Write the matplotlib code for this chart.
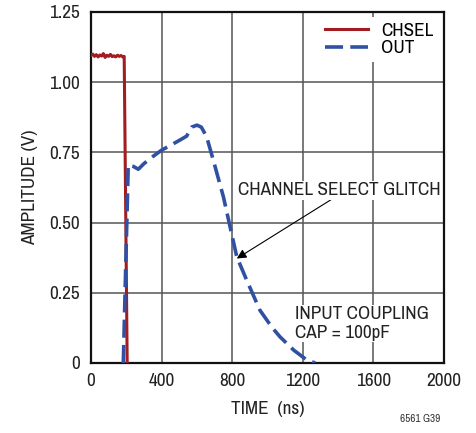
import matplotlib
matplotlib.use("Agg")
import matplotlib.pyplot as plt
from matplotlib import font_manager

# pick a condensed font if there is one
names = sorted(set(f.name for f in font_manager.fontManager.ttflist))
narrow = [n for n in names if 'Narrow' in n or 'Condensed' in n]
fam = narrow[0] if narrow else 'Liberation Sans'
plt.rcParams['font.family'] = [fam, 'DejaVu Sans']
fs = 13.8 if narrow else 11.5

# CHSEL trace (ns, V)
chsel_t = [0, 10, 20, 30, 40, 50, 60, 70, 80, 90, 100, 110, 120, 130, 140,
           150, 160, 170, 180, 188, 205]
chsel_v = [1.095, 1.100, 1.092, 1.098, 1.090, 1.097, 1.093, 1.102, 1.088, 1.096,
           1.092, 1.099, 1.091, 1.094, 1.090, 1.096, 1.092, 1.095, 1.090, 1.092,
           0.0]

# OUT trace (ns, V)
out_t = [183, 211, 240, 268, 300, 350, 400, 450, 504, 542, 570, 600, 625,
         655, 693, 750, 826, 882, 957, 1024, 1071, 1150, 1220, 1270]
out_v = [0.0, 0.705, 0.700, 0.690, 0.710, 0.735, 0.758, 0.775, 0.794, 0.808,
         0.840, 0.847, 0.840, 0.806, 0.722, 0.592, 0.378, 0.295, 0.188, 0.128,
         0.093, 0.045, 0.012, 0.0]

xticks = [0, 400, 800, 1200, 1600, 2000]
yticks = [0, 0.25, 0.50, 0.75, 1.00, 1.25]
yticklabels = ['0', '0.25', '0.50', '0.75', '1.00', '1.25']

red = '#a11d21'
blue = '#3050a3'

fig = plt.figure(figsize=(4.77, 4.33), dpi=100)
ax = fig.add_axes([0.1908, 0.1617, 0.74, 0.8106])

ax.plot(chsel_t, chsel_v, color=red, lw=2.2, label='CHSEL', zorder=3)
ax.plot(out_t, out_v, color=blue, lw=2.6, dashes=(5, 2), label='OUT', zorder=4)

ax.set_xlim(0, 2000)
ax.set_ylim(0, 1.25)
ax.set_xticks(xticks)
ax.set_yticks(yticks)
ax.set_yticklabels(yticklabels)
ax.tick_params(length=0, labelsize=fs, colors='#222222')
ax.tick_params(axis='y', pad=8)
ax.tick_params(axis='x', pad=7)
ax.grid(True, color='#555555', lw=1.1)
ax.set_axisbelow(True)
for s in ax.spines.values():
    s.set_linewidth(1.6)
    s.set_color('#111111')

ax.set_xlabel('TIME  (ns)', fontsize=fs, color='#222222', labelpad=9)
ax.set_ylabel('AMPLITUDE (V)', fontsize=fs, color='#222222', labelpad=8)

leg = ax.legend(loc='upper right', bbox_to_anchor=(1.0, 1.0), fontsize=fs,
                frameon=True, handlelength=2.2, handletextpad=0.7,
                borderaxespad=0.25, labelspacing=0.05, borderpad=0.3)
leg.get_frame().set_facecolor('white')
leg.get_frame().set_edgecolor('none')
leg.get_frame().set_alpha(1.0)

ax.annotate('CHANNEL SELECT GLITCH', xy=(826, 0.372), xytext=(833, 0.615),
            fontsize=fs, color='#222222', va='center', ha='left',
            bbox=dict(facecolor='white', edgecolor='none', pad=1),
            arrowprops=dict(arrowstyle='-|>', color='black', lw=0.8,
                            mutation_scale=14, shrinkA=0, shrinkB=0,
                            relpos=(0.47, 0.0)), zorder=5)

ax.text(1155, 0.14, 'INPUT COUPLING\nCAP = 100pF', fontsize=fs,
        color='#222222', va='center', ha='left', linespacing=1.2,
        bbox=dict(facecolor='white', edgecolor='none', pad=1), zorder=2)

fig.text(0.922, 0.025, '6561 G39', fontsize=8, color='#333333', ha='right')

fig.savefig('out.png', dpi=100)
